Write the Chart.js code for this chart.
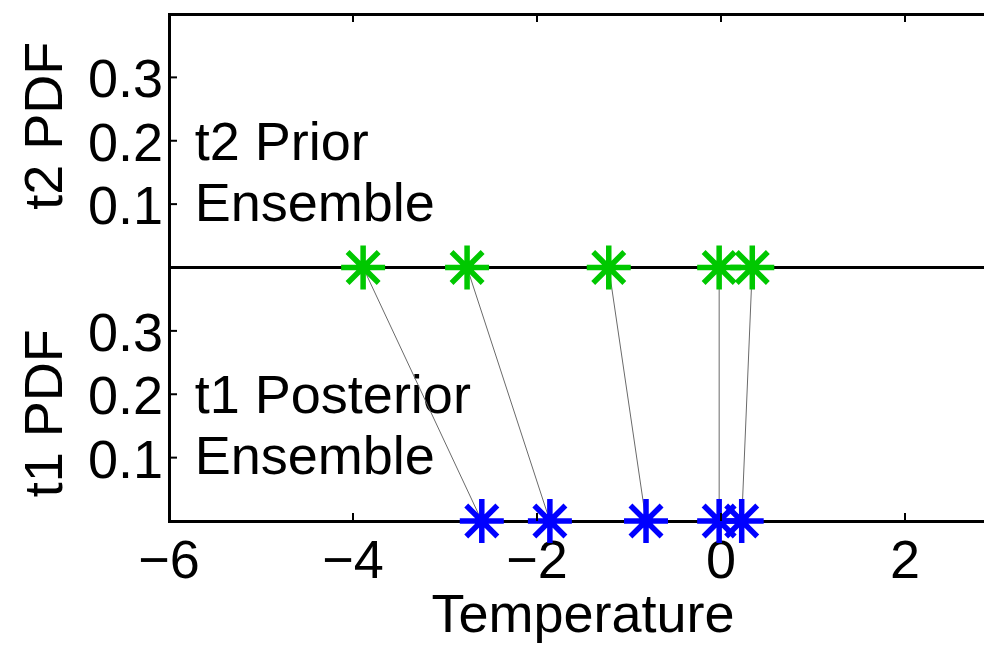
<!DOCTYPE html>
<html><head><meta charset="utf-8">
<script src="https://cdn.jsdelivr.net/npm/chart.js@4.4.0/dist/chart.umd.min.js"></script>
<style>html,body{margin:0;padding:0;background:#fff;overflow:hidden;width:984px;height:646px}</style>
</head><body>
<canvas id="c" width="1010" height="646"></canvas>
<script>
// ---- data ----
const priorT2 = [-3.89, -2.76, -1.22, -0.02, 0.34];      // t2 prior ensemble (green)
const posteriorT1 = [-2.60, -1.86, -0.815, -0.02, 0.225]; // t1 posterior ensemble (blue)
const xTicks = [-6, -4, -2, 0, 2];
const yTicks = [0.1, 0.2, 0.3];
const xRange = [-6, 3];
const yRange = [0, 0.4];
const yTitles = ['t2 PDF', 't1 PDF'];
const panelTexts = [['t2 Prior', 'Ensemble'], ['t1 Posterior', 'Ensemble']];
const xTitle = 'Temperature';

const FONT = 'Liberation Sans, Arial, Helvetica, sans-serif';
const FS = 54;
Chart.defaults.font.family = FONT;
Chart.defaults.color = '#000';

function yScaleOpts(showLines) {
  return {
    type: 'linear', position: 'left', stack: 'panels', stackWeight: 1,
    min: yRange[0], max: yRange[1],
    afterBuildTicks: s => { s.ticks = [yRange[0], ...yTicks, yRange[1]].map(v => ({value: v})); },
    afterFit: s => { s.width = 169; s.paddingTop = 0; s.paddingBottom = 0; },
    ticks: {
      color: '#000', font: {size: FS}, padding: 6, labelOffset: 5, autoSkip: false,
      callback: v => yTicks.some(t => Math.abs(t - v) < 1e-9) ? v.toFixed(1) : ''
    },
    grid: {
      drawTicks: false, drawOnChartArea: true, lineWidth: 3,
      color: ctx => (showLines && ctx.tick && (Math.abs(ctx.tick.value - yRange[0]) < 1e-9 || Math.abs(ctx.tick.value - yRange[1]) < 1e-9)) ? '#000' : 'rgba(0,0,0,0)'
    },
    border: {display: true, color: '#000', width: 3}
  };
}

const decor = {
  id: 'decor',
  beforeDatasetsDraw(chart) {
    const {ctx} = chart;
    const x = chart.scales.x, yT = chart.scales.yTop, yB = chart.scales.yBot;
    ctx.save();
    ctx.fillStyle = '#000';
    ctx.font = FS + 'px ' + FONT;
    ctx.textAlign = 'left';
    ctx.textBaseline = 'alphabetic';
    const tx = x.getPixelForValue(-5.72);
    [[yT, panelTexts[0]], [yB, panelTexts[1]]].forEach(([ys, lines]) => {
      const base = ys.getPixelForValue(0.17);
      lines.forEach((l, i) => ctx.fillText(l, tx, base + i * 61));
    });
    ctx.strokeStyle = '#6a6a6a';
    ctx.lineWidth = 1;
    for (let i = 0; i < priorT2.length; i++) {
      ctx.beginPath();
      ctx.moveTo(x.getPixelForValue(priorT2[i]), yT.getPixelForValue(0));
      ctx.lineTo(x.getPixelForValue(posteriorT1[i]), yB.getPixelForValue(0));
      ctx.stroke();
    }
    ctx.restore();
  },
  afterDraw(chart) {
    const {ctx, chartArea: a} = chart;
    const x = chart.scales.x, yT = chart.scales.yTop, yB = chart.scales.yBot;
    ctx.save();
    ctx.strokeStyle = '#000';
    ctx.lineWidth = 2;
    const L = 8;
    xTicks.forEach(v => {
      if (v === xRange[0]) return;
      const px = x.getPixelForValue(v);
      ctx.beginPath(); ctx.moveTo(px, a.bottom); ctx.lineTo(px, a.bottom - L); ctx.stroke();
      ctx.beginPath(); ctx.moveTo(px, a.top); ctx.lineTo(px, a.top + L); ctx.stroke();
    });
    [yT, yB].forEach(ys => yTicks.forEach(v => {
      const py = ys.getPixelForValue(v);
      ctx.beginPath(); ctx.moveTo(a.left, py); ctx.lineTo(a.left + L, py); ctx.stroke();
    }));
    ctx.fillStyle = '#000';
    ctx.font = FS + 'px ' + FONT;
    ctx.textAlign = 'center';
    ctx.textBaseline = 'alphabetic';
    [[yT, 0.2237, yTitles[0]], [yB, 0.170, yTitles[1]]].forEach(([ys, v, t]) => {
      ctx.save();
      ctx.translate(62, ys.getPixelForValue(v));
      ctx.rotate(-Math.PI / 2);
      ctx.fillText(t, 0, 0);
      ctx.restore();
    });
    ctx.restore();
  }
};

new Chart(document.getElementById('c'), {
  type: 'scatter',
  data: {
    datasets: [
      {
        label: 't2 Prior Ensemble', yAxisID: 'yTop',
        data: priorT2.map(v => ({x: v, y: 0})),
        pointStyle: 'star', pointRadius: 22, pointBorderWidth: 5.5,
        borderColor: '#00c800', backgroundColor: '#00c800', clip: false
      },
      {
        label: 't1 Posterior Ensemble', yAxisID: 'yBot',
        data: posteriorT1.map(v => ({x: v, y: 0})),
        pointStyle: 'star', pointRadius: 22, pointBorderWidth: 5.5,
        borderColor: '#0000ff', backgroundColor: '#0000ff', clip: false
      }
    ]
  },
  options: {
    responsive: false, animation: false,
    layout: {autoPadding: false, padding: {left: 0, top: 14, right: 13, bottom: 0}},
    plugins: {legend: {display: false}, tooltip: {enabled: false}},
    scales: {
      x: {
        type: 'linear', position: 'bottom', min: xRange[0], max: xRange[1],
        afterBuildTicks: s => { s.ticks = xTicks.map(v => ({value: v})); },
        afterFit: s => { s.height = 125; s.paddingRight = 0; s.paddingLeft = 0; },
        ticks: {
          color: '#000', font: {size: FS}, padding: 10, maxRotation: 0, autoSkip: false,
          callback: v => v < 0 ? '\u2212' + Math.abs(v) : String(v)
        },
        grid: {display: false, drawTicks: false},
        border: {display: true, color: '#000', width: 3},
        title: {display: true, text: xTitle, color: '#000', font: {size: FS}, padding: {top: 0, bottom: -4}}
      },
      yBot: yScaleOpts(false),
      yTop: yScaleOpts(true)
    }
  },
  plugins: [decor]
});
</script>
</body></html>
